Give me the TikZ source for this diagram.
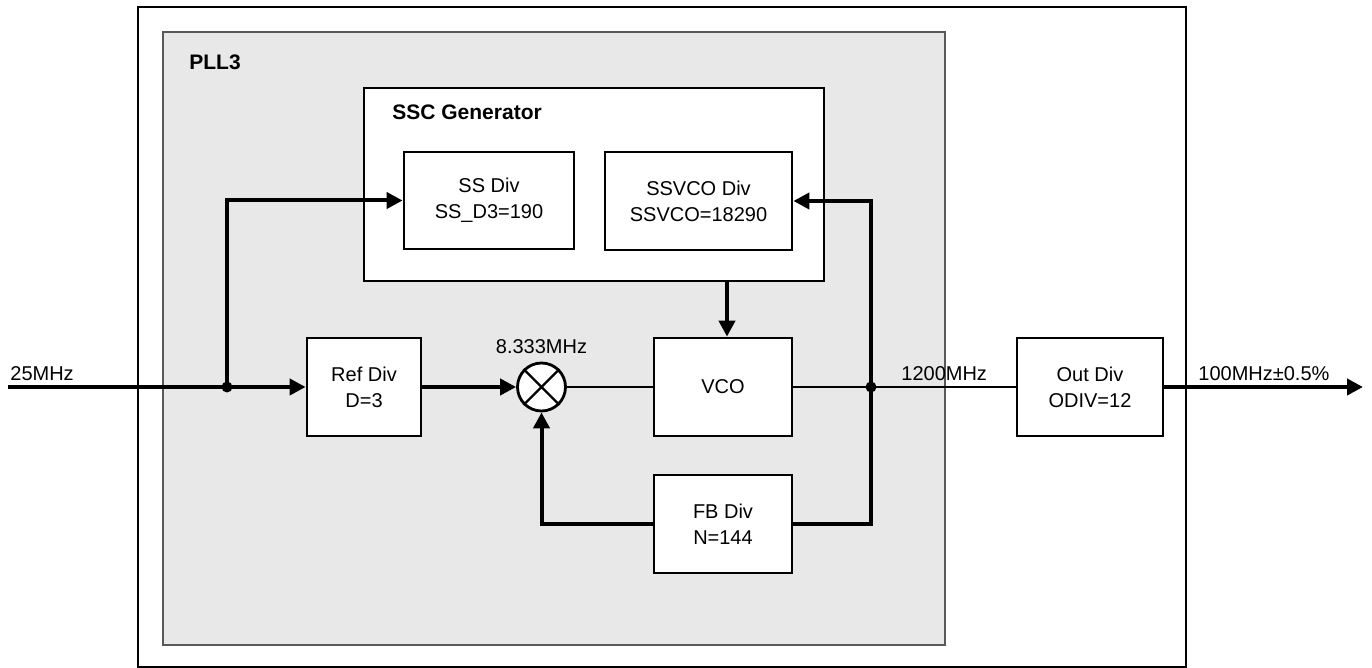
\documentclass[tikz,border=0pt]{standalone}
\usepackage{fontspec}
\setmainfont{Liberation Sans}
\usetikzlibrary{calc,arrows.meta}

\begin{document}
\begin{tikzpicture}[x=0.5pt,y=-0.5pt]
        % Block formulae
        \definecolor{pllgray}{RGB}{232,232,232}

        \tikzset{
            blk/.style={draw, line width=1.4pt, fill=white, inner sep=0pt,
                align=center, font=\fontsize{10}{13}\selectfont},
            thin wire/.style={line width=1pt},
            thick wire/.style={line width=2pt},
            arr/.style={thick wire, -{Triangle[length=8pt,width=8pt]}},
            lbl/.style={inner sep=0pt, font=\fontsize{10}{13}\selectfont},
            title/.style={inner sep=0pt, font=\fontsize{10.5}{13}\selectfont\bfseries},
        }

        \useasboundingbox (0,0) rectangle (1372,668);

        % Enclosing blocks
        \draw[line width=1.4pt] (138,7) rectangle (1186,667);
        \draw[fill=pllgray, draw=gray!70!black, line width=0.6pt] (163,32) rectangle (945,645);
        \node[title, anchor=base west] (pll) at (189,70) {PLL3};

        \node[blk, minimum width=230pt, minimum height=96.5pt] (ssc) at (594,184.5) {};
        \node[title, anchor=base west] (ssctitle) at (392,120) {SSC Generator};

        % Divider blocks
        \node[blk, minimum width=85pt, minimum height=48.5pt] (ssdiv) at (489,200.5) {SS Div\\SS\_D3=190};
        \node[blk, minimum width=93.5pt, minimum height=49pt] (ssvcodiv) at (698.5,201) {SSVCO Div\\SSVCO=18290};
        \node[blk, minimum width=57pt, minimum height=49pt] (refdiv) at (364,387) {Ref Div\\D=3};
        \node[blk, minimum width=69pt, minimum height=49pt] (vco) at (723,387) {VCO};
        \node[blk, minimum width=69pt, minimum height=49pt] (fbdiv) at (723,524) {FB Div\\N=144};
        \node[blk, minimum width=73pt, minimum height=49pt] (outdiv) at (1090,387) {Out Div\\ODIV=12};

        % Phase detector
        \node[draw, circle, line width=1.4pt, fill=white, minimum size=24pt, inner sep=0pt] (mix) at (541.5,387) {};
        \draw[line width=1.2pt] (mix.45) -- (mix.225) (mix.135) -- (mix.-45);

        \coordinate (in) at (8,387);
        \coordinate (jin) at (227,387);
        \coordinate (jout) at (871,387);
        \coordinate (out) at (1363,387);

        % Frequencies
        \node[lbl, anchor=base west] (fin) at (10,381) {25MHz};
        \node[lbl, anchor=base] (fref) at (541.5,354) {8.333MHz};
        \node[lbl, anchor=base west] (fvco) at (901,381) {1200MHz};
        \node[lbl, anchor=base west] (fout) at (1198,381) {100MHz±0.5\%};

        % Signal paths
        \draw[thick wire] (in) -- (jin);
        \draw[arr] (jin) -- (refdiv.west);
        \draw[arr] (jin) |- (ssdiv.west);
        \draw[arr] (refdiv.east) -- (mix.west);
        \draw[thin wire] (mix.east) -- (vco.west);
        \draw[thin wire] (vco.east) -- (jout) -- (outdiv.west);
        \draw[arr] (jout) |- (ssvcodiv.east);
        \draw[thick wire] (jout) |- (fbdiv.east);
        \draw[arr] (fbdiv.west) -| (mix.south);
        \draw[arr] ($(ssc.south -| vco.north)+(4,0)$) -- ($(vco.north)+(4,0)$);
        \draw[arr] (outdiv.east) -- (out);

        \fill (jin) circle[radius=2.75pt];
        \fill (jout) circle[radius=2.75pt];

        \end{tikzpicture}
\end{document}
